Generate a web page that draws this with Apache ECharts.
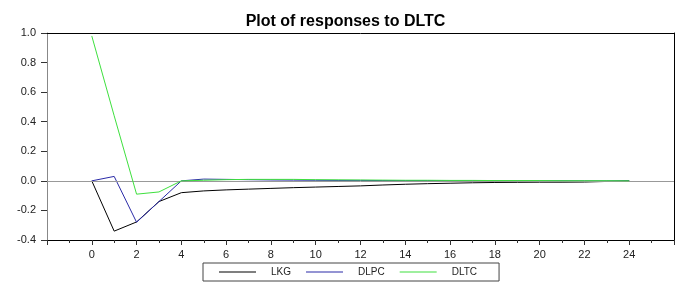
<!DOCTYPE html>
<html>
<head>
<meta charset="utf-8">
<script src="https://cdn.jsdelivr.net/npm/echarts@6/dist/echarts.min.js"></script>
<style>html,body{margin:0;padding:0;background:#fff}#c{width:691px;height:295px}</style>
</head>
<body>
<div id="c"></div>
<script>
var periods = [0,1,2,3,4,5,6,7,8,9,10,11,12,13,14,15,16,17,18,19,20,21,22,23,24];
var lkg  = [0,-0.34,-0.278,-0.14,-0.08,-0.068,-0.061,-0.056,-0.051,-0.046,-0.042,-0.038,-0.034,-0.028,-0.023,-0.019,-0.016,-0.013,-0.011,-0.010,-0.009,-0.009,-0.008,-0.004,0];
var dlpc = [0,0.03,-0.28,-0.14,0,0.012,0.010,0.008,0.006,0.005,0.004,0.003,0.003,0.002,0.002,0.002,0.001,0.001,0.001,0.001,0.001,0.001,0,0,0];
var dltc = [0.98,0.44,-0.09,-0.075,0,0.004,0.008,0.010,0.010,0.010,0.008,0.007,0.006,0.005,0.004,0.004,0.003,0.003,0.002,0.002,0.002,0.001,0.001,0.001,0];
var yTicks = [-0.4,-0.2,0.0,0.2,0.4,0.6,0.8,1.0];
var seriesNames = ['LKG','DLPC','DLTC'];

function pairs(v){ return periods.map(function(p,i){ return [p, v[i]]; }); }
var font = 'Liberation Sans, Arial, sans-serif';
var chart = echarts.init(document.getElementById('c'), null, {renderer:'canvas'});
chart.setOption({
  animation:false,
  backgroundColor:'#fff',
  title:{text:'Plot of responses to DLTC', left:'center', top:9,
    textStyle:{fontFamily:font, fontSize:16, fontWeight:'bold', color:'#000'}},
  grid:{left:47, right:17, top:33, bottom:55, show:false},
  legend:{data:seriesNames, left:203, top:263, orient:'horizontal',
    itemWidth:37, itemHeight:10, itemGap:15, icon:'path://M0,0 L37,0 L37,1 L0,1 Z',
    borderColor:'#444', borderWidth:1, padding:[4,22,4,16],
    textStyle:{fontFamily:font, fontSize:10, color:'#222', padding:[0,0,0,10]}},
  xAxis:[{type:'value', min:-2, max:26, interval:2, position:'bottom',
    axisLine:{onZero:false, lineStyle:{color:'#000', width:1}},
    axisTick:{show:true, length:5, lineStyle:{color:'#333'}},
    minorTick:{show:true, splitNumber:2, length:3, lineStyle:{color:'#333'}},
    splitLine:{show:false},
    axisLabel:{fontFamily:font, fontSize:11, color:'#222', margin:9,
      formatter:function(v){ return (v<0||v>24)?'':String(v); }}},
    {type:'value', min:-2, max:26, position:'top',
    axisLine:{onZero:false, lineStyle:{color:'#000', width:1}},
    axisTick:{show:false}, axisLabel:{show:false}, splitLine:{show:false}}],
  yAxis:[{type:'value', min:-0.4, max:1.0, interval:0.2, position:'left',
    axisLine:{show:true, onZero:false, lineStyle:{color:'#888', width:1}},
    axisTick:{show:true, length:6, lineStyle:{color:'#333'}},
    splitLine:{show:false},
    axisLabel:{fontFamily:font, fontSize:11, color:'#222', margin:11,
      formatter:function(v){ return v.toFixed(1); }}},
    {type:'value', min:-0.4, max:1.0, position:'right',
    axisLine:{show:true, onZero:false, lineStyle:{color:'#000', width:1}},
    axisTick:{show:false}, axisLabel:{show:false}, splitLine:{show:false}}],
  series:[
    {type:'line', name:'zero', data:[], z:1, silent:true,
      markLine:{silent:true, symbol:['none','none'], label:{show:false},
        lineStyle:{color:'#999', width:1, type:'solid'}, data:[{yAxis:0}]}},
    {type:'line', name:'LKG', data:pairs(lkg), showSymbol:false, z:3,
      lineStyle:{color:'#000', width:1}, itemStyle:{color:'#000'}},
    {type:'line', name:'DLPC', data:pairs(dlpc), showSymbol:false, z:4,
      lineStyle:{color:'#2b2ba8', width:1}, itemStyle:{color:'#2b2ba8'}},
    {type:'line', name:'DLTC', data:pairs(dltc), showSymbol:false, z:5,
      lineStyle:{color:'#3ee03e', width:1}, itemStyle:{color:'#3ee03e'}}
  ]
});
</script>
</body>
</html>
